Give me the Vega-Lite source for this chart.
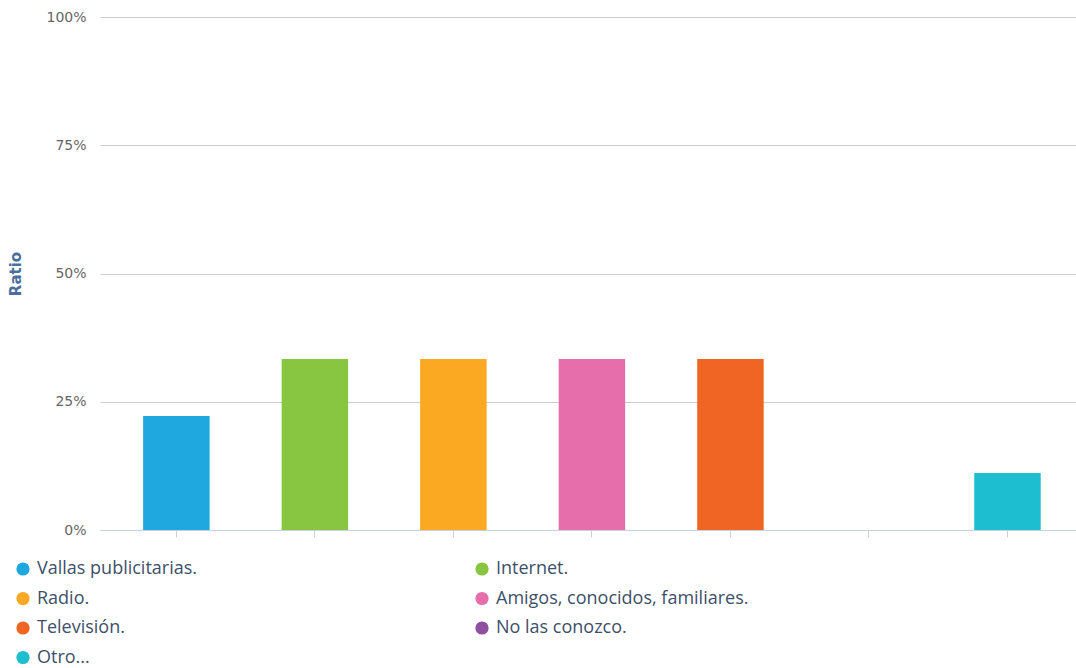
{
  "$schema": "https://vega.github.io/schema/vega-lite/v6.json",
  "width": 976,
  "height": 513,
  "autosize": {"type": "none"},
  "padding": {"left": 100, "top": 17, "right": 0, "bottom": 138},
  "background": "white",
  "config": {
    "view": {"stroke": null},
    "font": "Open Sans"
  },
  "data": {
    "values": [
      {"opcion": "Vallas publicitarias.", "ratio": 0.2222},
      {"opcion": "Internet.", "ratio": 0.3333},
      {"opcion": "Radio.", "ratio": 0.3333},
      {"opcion": "Amigos, conocidos, familiares.", "ratio": 0.3333},
      {"opcion": "Televisión.", "ratio": 0.3333},
      {"opcion": "No las conozco.", "ratio": 0},
      {"opcion": "Otro...", "ratio": 0.1111}
    ]
  },
  "mark": {"type": "bar"},
  "encoding": {
    "x": {
      "field": "opcion",
      "type": "nominal",
      "sort": null,
      "scale": {"paddingInner": 0.52, "paddingOuter": 0.283, "align": 0.55},
      "axis": {
        "title": null,
        "labels": false,
        "domainColor": "#c6d2e2",
        "tickColor": "#c6d2e2",
        "tickSize": 7,
        "grid": false
      }
    },
    "y": {
      "field": "ratio",
      "type": "quantitative",
      "scale": {"domain": [0, 1]},
      "axis": {
        "title": "Ratio",
        "titleColor": "#4a6f9c",
        "titleFont": "DejaVu Sans",
        "titleFontSize": 15,
        "titleFontWeight": "bold",
        "titlePadding": 22,
        "values": [0, 0.25, 0.5, 0.75, 1],
        "format": ".0%",
        "labelColor": "#666666",
        "labelFont": "DejaVu Sans",
        "labelFontSize": 14,
        "labelPadding": 14,
        "domain": false,
        "ticks": false,
        "gridColor": "#cccccc"
      }
    },
    "color": {
      "field": "opcion",
      "type": "nominal",
      "sort": null,
      "scale": {
        "range": ["#1fa8e0", "#88c540", "#fba823", "#e56eab", "#f06523", "#8e4fa0", "#1cbecf"]
      },
      "legend": {
        "title": null,
        "orient": "none",
        "direction": "horizontal",
        "legendX": -86,
        "legendY": 543,
        "columns": 2,
        "columnPadding": 275,
        "rowPadding": 11.5,
        "symbolType": "circle",
        "symbolSize": 175,
        "symbolStrokeWidth": 0,
        "labelFont": "Open Sans",
        "labelFontSize": 18,
        "labelColor": "#3d5069",
        "labelOffset": 5,
        "labelLimit": 400
      }
    }
  }
}
